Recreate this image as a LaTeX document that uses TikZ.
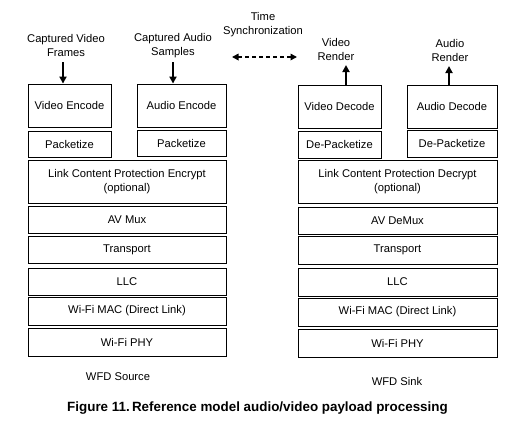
\documentclass[tikz,border=0pt]{standalone}
\usepackage{fontspec}
\setmainfont{Liberation Sans}
\usetikzlibrary{arrows.meta}
\begin{document}
\begin{tikzpicture}[x=1pt,y=-1pt,
  box/.style={draw, line width=0.9pt, inner sep=0pt, align=center, font=\fontsize{11.2}{14}\selectfont},
  lbl/.style={inner sep=0pt, align=center, font=\fontsize{11.2}{14}\selectfont},
  arr/.style={line width=2pt, -{Triangle[length=7pt,width=7pt]}},
  darr/.style={line width=1.6pt, dash pattern=on 4pt off 3pt, {Triangle[length=6.5pt,width=6.5pt]}-{Triangle[length=6.5pt,width=6.5pt]}}]
\useasboundingbox (0,0) rectangle (517,426);
% Source side
\node[box, minimum width=83pt, minimum height=43pt] (venc) at (69.5,105.5) {Video Encode};
\node[box, minimum width=89pt, minimum height=43pt] (aenc) at (181.5,105.5) {Audio Encode};
\node[box, minimum width=83pt, minimum height=26pt] (pkl) at (69.5,144) {Packetize};
\node[box, minimum width=89pt, minimum height=26pt] (pkr) at (181.5,143) {Packetize};
\node[box, minimum width=198pt, minimum height=43pt] (lcpe) at (127,181.5) {Link Content Protection Encrypt\\(optional)};
\node[box, minimum width=198pt, minimum height=27pt] (avmux) at (127,219.5) {AV Mux};
\node[box, minimum width=198pt, minimum height=27pt] (trans) at (127,249.5) {Transport};
\node[box, minimum width=198pt, minimum height=27pt] (llc) at (127,281.5) {LLC};
\node[box, minimum width=198pt, minimum height=28pt] (mac) at (127,311) {Wi-Fi MAC (Direct Link)};
\node[box, minimum width=198pt, minimum height=28pt] (phy) at (127,342) {Wi-Fi PHY};
\node[lbl] (src) at (118,377) {WFD Source};
% Sink side
\node[box, minimum width=83pt, minimum height=43pt] (vdec) at (339.5,106.5) {Video Decode};
\node[box, minimum width=90pt, minimum height=43pt] (adec) at (452,106.5) {Audio Decode};
\node[box, minimum width=83pt, minimum height=27pt] (dpl) at (339.5,144.5) {De-Packetize};
\node[box, minimum width=90pt, minimum height=27pt] (dpr) at (452,143.5) {De-Packetize};
\node[box, minimum width=199pt, minimum height=43pt] (lcpd) at (397.5,181.5) {Link Content Protection Decrypt\\(optional)};
\node[box, minimum width=199pt, minimum height=27pt] (avdemux) at (397.5,220.5) {AV DeMux};
\node[box, minimum width=199pt, minimum height=28pt] (trans2) at (397.5,250) {Transport};
\node[box, minimum width=199pt, minimum height=28pt] (llc2) at (397.5,282) {LLC};
\node[box, minimum width=199pt, minimum height=28pt] (mac2) at (397.5,312) {Wi-Fi MAC (Direct Link)};
\node[box, minimum width=199pt, minimum height=28pt] (phy2) at (397.5,343) {Wi-Fi PHY};
\node[lbl] (sink) at (397,381) {WFD Sink};
% Top labels
\node[lbl] (capv) at (66,45) {Captured Video\\Frames};
\node[lbl] (capa) at (173,45.5) {Captured Audio\\Samples};
\node[lbl] (tsync) at (263,24.5) {Time\\Synchronization};
\node[lbl] (vren) at (336,49.5) {Video\\Render};
\node[lbl] (aren) at (450,50) {Audio\\Render};
% Arrows
\coordinate (a1) at (63,62);
\coordinate (a2) at (173,62);
\coordinate (a3) at (346,65);
\coordinate (a4) at (449,66);
\draw[arr] (a1) -- (a1 |- venc.north);
\draw[arr] (a2) -- (a2 |- aenc.north);
\draw[arr] (a3 |- vdec.north) -- (a3);
\draw[arr] (a4 |- adec.north) -- (a4);
\coordinate (d1) at (232,57);
\coordinate (d2) at (297,57);
\draw[darr] (d1) -- (d2);
% Caption
\node[inner sep=0pt, font=\bfseries\fontsize{13.4}{16}\selectfont] (cap) at (257.5,408) {Figure 11.\,Reference model audio/video payload processing};
\end{tikzpicture}
\end{document}
